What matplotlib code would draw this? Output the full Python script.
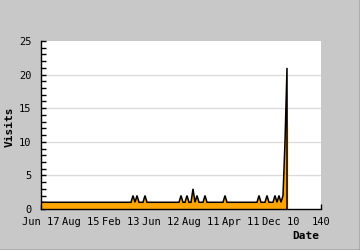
import matplotlib
matplotlib.use("Agg")
import matplotlib.pyplot as plt
from matplotlib.ticker import MultipleLocator

# ---- data ----
days = list(range(124))
visits = [1] * 124
spikes = {46: 2, 48: 2, 52: 2, 70: 2, 73: 2, 76: 3, 78: 2, 82: 2, 92: 2,
          109: 2, 113: 2, 117: 2, 119: 2, 121: 2, 122: 10, 123: 21}
for d, v in spikes.items():
    visits[d] = v
# orange area trails slightly past the last sample in the reference rendering
tail_day = 123.6
tail_visits = 11.5

x_ticks = [0, 20, 40, 60, 80, 100, 120, 140]
x_labels = ["Jun 17", "Aug 15", "Feb 13", "Jun 12", "Aug 11", "Apr 11", "Dec 10", "140"]
y_ticks = [0, 5, 10, 15, 20, 25]

BG = "#C8C8C8"
ORANGE = "#FFA500"

fig = plt.figure(figsize=(3.6, 2.5), dpi=100, facecolor=BG)
ax = fig.add_axes([41 / 360, 41 / 250, 280 / 360, 168 / 250])
ax.set_facecolor("white")

font = {"family": "DejaVu Sans Mono", "size": 7.5}

fill_x = days + [tail_day, tail_day]
fill_y = visits + [tail_visits, 0]
ax.fill(fill_x + [days[0]], fill_y + [0], facecolor=ORANGE, edgecolor="none",
        linewidth=0, zorder=2)
ax.plot(days + [days[-1]], visits + [0], color="black", linewidth=1.1, zorder=2.5,
        solid_joinstyle="miter")

ax.set_xlim(0, 140)
ax.set_ylim(0, 25)
ax.set_xticks(x_ticks)
ax.set_xticklabels(x_labels, **font)
ax.set_yticks(y_ticks)
ax.set_yticklabels([str(t) for t in y_ticks], **font)
ax.yaxis.set_minor_locator(MultipleLocator(1))

for y in y_ticks[1:-1]:
    ax.axhline(y, color="#DCDCDC", linewidth=1.0, zorder=1)

ax.tick_params(axis="both", which="both", direction="in", length=3.5,
               width=1.0, color="black", zorder=3)
ax.tick_params(axis="y", which="major", pad=7)
ax.tick_params(axis="x", which="major", pad=6)
for s in ["top", "right"]:
    ax.spines[s].set_visible(False)
for s in ["left", "bottom"]:
    ax.spines[s].set_color("black")
    ax.spines[s].set_linewidth(1.0)
    ax.spines[s].set_zorder(4)

fig.text(10 / 360, 1 - 127 / 250, "Visits", rotation=90, ha="center", va="center",
         family="DejaVu Sans Mono", size=8, weight="bold")
fig.text(319 / 360, 1 - 236 / 250, "Date", ha="right", va="center",
         family="DejaVu Sans Mono", size=8, weight="bold")

# figure border (right/bottom dark edge)
fig.add_artist(plt.Line2D([359.5 / 360, 359.5 / 360], [0, 1], color="#404040", linewidth=1.0,
                          transform=fig.transFigure))
fig.add_artist(plt.Line2D([0, 1], [0.5 / 250, 0.5 / 250], color="#404040", linewidth=1.0,
                          transform=fig.transFigure))

fig.savefig("out.png", dpi=100, facecolor=BG)
